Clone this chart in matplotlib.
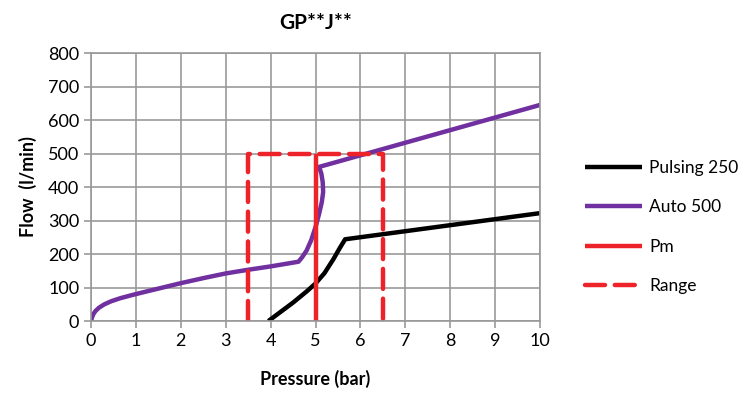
import numpy as np
from matplotlib import pyplot as plt

plt.rcParams['font.family'] = ['Lato', 'DejaVu Sans']

# pump curves, pressure (bar) vs flow (l/min)
pulsing_p = [3.95, 4.2, 4.5, 4.8, 5.0, 5.2, 5.4, 5.55, 5.66, 10.0]
pulsing_q = [0, 25, 55, 88, 112, 143, 185, 220, 244, 322]

auto_p = [0, 0.02, 0.05, 0.1, 0.18, 0.3, 0.45, 0.65, 0.9, 1.2, 1.6, 2.0,
          2.5, 3.0, 3.5, 4.0, 4.62,
          4.7, 4.8, 4.9, 5.0, 5.08, 5.14, 5.17, 5.16, 5.13, 5.08, 10.0]
auto_q = [0, 10, 20, 30, 40, 50, 59, 68, 77, 87, 100, 113,
          128, 142, 153, 163, 177,
          190, 210, 240, 280, 320, 355, 385, 415, 440, 460, 645]

pm_p = [5, 5]
pm_q = [0, 500]

range_p = [3.5, 3.5, 6.5, 6.5]
range_q = [0, 500, 500, 0]

red = '#EE2229'
grey = '#999999'

fig = plt.figure(figsize=(7.54, 3.95), dpi=100)
ax = fig.add_axes([0.1207, 0.1873, 0.5955, 0.6785])

ax.plot(pulsing_p, pulsing_q, color='black', lw=3.2, label='Pulsing 250', solid_capstyle='butt')
ax.plot(auto_p, auto_q, color='#7030A0', lw=3.2, label='Auto 500', solid_capstyle='butt')
ax.plot(pm_p, pm_q, color=red, lw=3.2, label='Pm', solid_capstyle='butt')
ax.plot(range_p, range_q, color=red, lw=3.2, label='Range', dashes=(4.5, 2.2),
        dash_capstyle='round')

ax.set_xlim(0, 10)
ax.set_ylim(0, 800)
ax.set_xticks(np.arange(0, 11, 1))
ax.set_yticks(np.arange(0, 801, 100))
ax.grid(True, color=grey, lw=1.2)
ax.set_axisbelow(True)
for s in ax.spines.values():
    s.set_color(grey)
    s.set_linewidth(1.2)
ax.tick_params(colors=grey, labelcolor='black', labelsize=13, length=5, width=1.2)

ax.set_xlabel('Pressure (bar)', fontsize=13, fontweight='bold', labelpad=15)
ax.set_ylabel('Flow  (l/min)', fontsize=13, fontweight='bold', labelpad=8)
ax.set_title('GP**J**', fontsize=15, fontweight='bold', pad=17)

fig.legend(loc='center left', bbox_to_anchor=(0.776, 0.425), frameon=False, borderpad=0,
           borderaxespad=0, fontsize=12.5, handlelength=3.3, handletextpad=0.4,
           labelspacing=1.35)

plt.savefig('out.png', dpi=100)
